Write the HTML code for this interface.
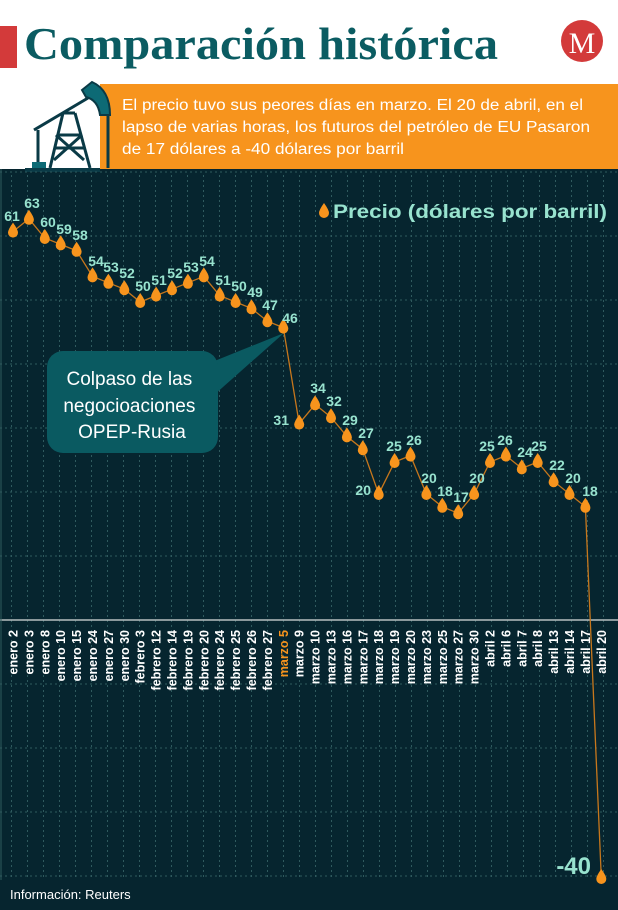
<!DOCTYPE html>
<html><head><meta charset="utf-8"><style>
html,body{margin:0;padding:0;background:#fff;}
svg{display:block;}
text{font-family:"Liberation Sans",sans-serif;}
</style></head><body>
<svg width="618" height="910" viewBox="0 0 618 910" xmlns="http://www.w3.org/2000/svg" xmlns:xlink="http://www.w3.org/1999/xlink">
<defs>
<path id="d" d="M0 -9 Q5 -2 5 1 A5 5 0 0 1 -5 1 Q-5 -2 0 -9 Z" fill="#f7941d"/>
<pattern id="vp" x="11" y="0" width="16" height="5" patternUnits="userSpaceOnUse">
<rect x="0" y="0" width="1" height="2" fill="#2f5a5e"/>
</pattern>
</defs>
<rect x="0" y="0" width="618" height="910" fill="#fff"/>
<!-- header -->
<rect x="0" y="26" width="17" height="42" fill="#d33a3a"/>
<text x="24" y="59" font-weight="bold" font-size="45" fill="#0b5c62" textLength="474" lengthAdjust="spacingAndGlyphs" style="font-family:'Liberation Serif',serif">Comparación histórica</text>
<circle cx="582" cy="41" r="21" fill="#d33a3a"/>
<text x="582" y="53" text-anchor="middle" font-size="30" fill="#fff" style="font-family:'Liberation Serif',serif">M</text>
<!-- banner -->
<rect x="100" y="84" width="518" height="86" fill="#f7941d"/>
<text fill="#fff" font-size="15.5">
<tspan x="122" y="110" textLength="461" lengthAdjust="spacingAndGlyphs">El precio tuvo sus peores días en marzo. El 20 de abril, en el</tspan>
<tspan x="122" y="132" textLength="468" lengthAdjust="spacingAndGlyphs">lapso de varias horas, los futuros del petróleo de EU Pasaron</tspan>
<tspan x="122" y="154" textLength="282" lengthAdjust="spacingAndGlyphs">de 17 dólares a -40 dólares por barril</tspan>
</text>
<!-- dark area -->
<rect x="0" y="169" width="618" height="741" fill="#06252f"/>
<!-- pump icon -->
<g stroke="#0a3a46" fill="none" stroke-width="3">
<line x1="34" y1="130" x2="88" y2="98"/>
<line x1="38" y1="130" x2="38" y2="168"/>
<line x1="63" y1="113" x2="50" y2="168"/>
<line x1="75" y1="113" x2="90" y2="168"/>
<line x1="63" y1="113" x2="75" y2="113"/>
<line x1="58" y1="135" x2="82" y2="135"/>
<line x1="55" y1="148" x2="84" y2="148"/>
<line x1="56" y1="135" x2="84" y2="160"/>
<line x1="82" y1="135" x2="54" y2="160"/>
<line x1="108" y1="115" x2="108" y2="168"/>
</g>
<path d="M82 90 L92 82 Q110 90 110 115 L100 115 Q98 100 86 97 Z" fill="#0d6a75" stroke="#0a3a46" stroke-width="2"/>
<rect x="32" y="162" width="14" height="8" fill="#0d6a75"/>
<rect x="25" y="168" width="75" height="4" fill="#0a3a46"/>
<!-- grid -->
<rect x="0" y="172" width="618" height="708" fill="url(#vp)"/>
<g stroke="#2f5a5e" stroke-width="1" stroke-dasharray="2,3">
<line x1="0" y1="172" x2="618" y2="172"/>
<line x1="0" y1="236" x2="618" y2="236"/>
<line x1="0" y1="300" x2="618" y2="300"/>
<line x1="0" y1="364" x2="618" y2="364"/>
<line x1="0" y1="428" x2="618" y2="428"/>
<line x1="0" y1="492" x2="618" y2="492"/>
<line x1="0" y1="556" x2="618" y2="556"/>
<line x1="0" y1="684" x2="618" y2="684"/>
<line x1="0" y1="748" x2="618" y2="748"/>
<line x1="0" y1="812" x2="618" y2="812"/>
<line x1="0" y1="876" x2="618" y2="876"/>
</g>
<line x1="0" y1="620" x2="618" y2="620" stroke="#b7c0c0" stroke-width="1.5"/>
<line x1="1" y1="169" x2="1" y2="880" stroke="#2f5a5e" stroke-width="1"/>
<!-- legend -->
<use xlink:href="#d" x="324" y="212"/>
<text x="333" y="218" font-size="19" font-weight="bold" fill="#98e3cf" textLength="274" lengthAdjust="spacingAndGlyphs">Precio (dólares por barril)</text>
<!-- callout -->
<path d="M212 362 L284 333 L214 395 Z" fill="#0a5a61"/>
<rect x="47" y="351" width="171" height="102" rx="16" fill="#0a5a61"/>
<text fill="#fff" font-size="19" text-anchor="middle">
<tspan x="132" y="385">Colpaso de las</tspan>
<tspan x="132" y="412">negocioaciones</tspan>
<tspan x="132" y="438">OPEP-Rusia</tspan>
</text>
<!-- series -->
<polyline fill="none" stroke="#c7771c" stroke-width="1.3" points="13,231.6 28.9,218.8 44.8,238 60.7,244.4 76.6,250.8 92.5,276.4 108.4,282.8 124.3,289.2 140.2,302 156.1,295.6 172,289.2 187.9,282.8 203.8,276.4 219.7,295.6 235.6,302 251.5,308.4 267.4,321.2 283.3,327.6 299.2,423.6 315.1,404.4 331,417.2 346.9,436.4 362.8,449.2 378.7,494 394.6,462 410.5,455.6 426.4,494 442.3,506.8 458.2,513.2 474.1,494 490,462 505.9,455.6 521.8,468.4 537.7,462 553.6,481.2 569.5,494 585.4,506.8 601.3,878"/>
<g>
<use xlink:href="#d" x="13" y="231.6"/><use xlink:href="#d" x="28.9" y="218.8"/><use xlink:href="#d" x="44.8" y="238"/><use xlink:href="#d" x="60.7" y="244.4"/><use xlink:href="#d" x="76.6" y="250.8"/><use xlink:href="#d" x="92.5" y="276.4"/><use xlink:href="#d" x="108.4" y="282.8"/><use xlink:href="#d" x="124.3" y="289.2"/><use xlink:href="#d" x="140.2" y="302"/><use xlink:href="#d" x="156.1" y="295.6"/><use xlink:href="#d" x="172" y="289.2"/><use xlink:href="#d" x="187.9" y="282.8"/><use xlink:href="#d" x="203.8" y="276.4"/><use xlink:href="#d" x="219.7" y="295.6"/><use xlink:href="#d" x="235.6" y="302"/><use xlink:href="#d" x="251.5" y="308.4"/><use xlink:href="#d" x="267.4" y="321.2"/><use xlink:href="#d" x="283.3" y="327.6"/><use xlink:href="#d" x="299.2" y="423.6"/><use xlink:href="#d" x="315.1" y="404.4"/><use xlink:href="#d" x="331" y="417.2"/><use xlink:href="#d" x="346.9" y="436.4"/><use xlink:href="#d" x="362.8" y="449.2"/><use xlink:href="#d" x="378.7" y="494"/><use xlink:href="#d" x="394.6" y="462"/><use xlink:href="#d" x="410.5" y="455.6"/><use xlink:href="#d" x="426.4" y="494"/><use xlink:href="#d" x="442.3" y="506.8"/><use xlink:href="#d" x="458.2" y="513.2"/><use xlink:href="#d" x="474.1" y="494"/><use xlink:href="#d" x="490" y="462"/><use xlink:href="#d" x="505.9" y="455.6"/><use xlink:href="#d" x="521.8" y="468.4"/><use xlink:href="#d" x="537.7" y="462"/><use xlink:href="#d" x="553.6" y="481.2"/><use xlink:href="#d" x="569.5" y="494"/><use xlink:href="#d" x="585.4" y="506.8"/><use xlink:href="#d" x="601.3" y="878"/>
</g>
<g font-size="14" font-weight="bold" fill="#98e3cf" text-anchor="middle">
<text x="12" y="221">61</text><text x="32" y="208">63</text><text x="48" y="227">60</text><text x="64" y="234">59</text><text x="80" y="240">58</text><text x="96" y="266">54</text><text x="111" y="272">53</text><text x="127" y="278">52</text><text x="143" y="291">50</text><text x="159" y="285">51</text><text x="175" y="278">52</text><text x="191" y="272">53</text><text x="207" y="266">54</text><text x="223" y="285">51</text><text x="239" y="291">50</text><text x="255" y="297">49</text><text x="270" y="310">47</text><text x="290" y="323">46</text>
<text x="289" y="425" text-anchor="end">31</text>
<text x="318" y="393">34</text><text x="334" y="406">32</text><text x="350" y="425">29</text><text x="366" y="438">27</text>
<text x="371" y="495" text-anchor="end">20</text>
<text x="394" y="451">25</text><text x="414" y="445">26</text><text x="429" y="483">20</text><text x="445" y="496">18</text><text x="461" y="502">17</text><text x="477" y="483">20</text><text x="487" y="451">25</text><text x="505" y="445">26</text><text x="525" y="457">24</text><text x="539" y="451">25</text><text x="557" y="470">22</text><text x="573" y="483">20</text><text x="590" y="496">18</text>
<text x="591" y="874" text-anchor="end" font-size="24">-40</text>
</g>
<!-- x labels -->
<g font-size="12.5" font-weight="bold" fill="#fff" text-anchor="end">
<text transform="translate(17.5,630) rotate(-90)">enero 2</text>
<text transform="translate(33.4,630) rotate(-90)">enero 3</text>
<text transform="translate(49.3,630) rotate(-90)">enero 8</text>
<text transform="translate(65.2,630) rotate(-90)">enero 10</text>
<text transform="translate(81.1,630) rotate(-90)">enero 15</text>
<text transform="translate(97,630) rotate(-90)">enero 24</text>
<text transform="translate(112.9,630) rotate(-90)">enero 27</text>
<text transform="translate(128.8,630) rotate(-90)">enero 30</text>
<text transform="translate(144.7,630) rotate(-90)">febrero 3</text>
<text transform="translate(160.6,630) rotate(-90)">febrero 12</text>
<text transform="translate(176.5,630) rotate(-90)">febrero 14</text>
<text transform="translate(192.4,630) rotate(-90)">febrero 19</text>
<text transform="translate(208.3,630) rotate(-90)">febrero 20</text>
<text transform="translate(224.2,630) rotate(-90)">febrero 24</text>
<text transform="translate(240.1,630) rotate(-90)">febrero 25</text>
<text transform="translate(256,630) rotate(-90)">febrero 26</text>
<text transform="translate(271.9,630) rotate(-90)">febrero 27</text>
<text transform="translate(287.8,630) rotate(-90)" fill="#f7941d">marzo 5</text>
<text transform="translate(303.7,630) rotate(-90)">marzo 9</text>
<text transform="translate(319.6,630) rotate(-90)">marzo 10</text>
<text transform="translate(335.5,630) rotate(-90)">marzo 13</text>
<text transform="translate(351.4,630) rotate(-90)">marzo 16</text>
<text transform="translate(367.3,630) rotate(-90)">marzo 17</text>
<text transform="translate(383.2,630) rotate(-90)">marzo 18</text>
<text transform="translate(399.1,630) rotate(-90)">marzo 19</text>
<text transform="translate(415,630) rotate(-90)">marzo 20</text>
<text transform="translate(430.9,630) rotate(-90)">marzo 23</text>
<text transform="translate(446.8,630) rotate(-90)">marzo 25</text>
<text transform="translate(462.7,630) rotate(-90)">marzo 27</text>
<text transform="translate(478.6,630) rotate(-90)">marzo 30</text>
<text transform="translate(494.5,630) rotate(-90)">abril 2</text>
<text transform="translate(510.4,630) rotate(-90)">abril 6</text>
<text transform="translate(526.3,630) rotate(-90)">abril 7</text>
<text transform="translate(542.2,630) rotate(-90)">abril 8</text>
<text transform="translate(558.1,630) rotate(-90)">abril 13</text>
<text transform="translate(574,630) rotate(-90)">abril 14</text>
<text transform="translate(589.9,630) rotate(-90)">abril 17</text>
<text transform="translate(605.8,630) rotate(-90)">abril 20</text>
</g>
<text x="10" y="899" font-size="13" fill="#fff">Información: Reuters</text>
</svg>
</body></html>
